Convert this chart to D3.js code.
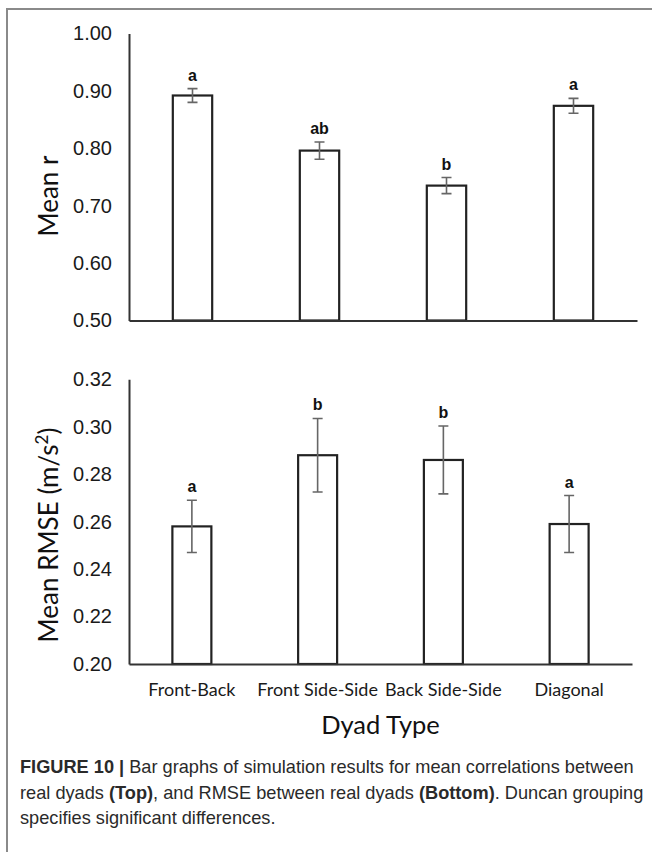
<!DOCTYPE html>
<html>
<head>
<meta charset="utf-8">
<script src="https://cdn.jsdelivr.net/npm/d3@7"></script>
<style>
  html, body { margin: 0; padding: 0; background: #fff; }
  svg { display: block; }
</style>
</head>
<body>
<svg id="chart" width="652" height="852"></svg>
<script>
// ---- Data ----
const categories = ["Front-Back", "Front Side-Side", "Back Side-Side", "Diagonal"];

const meanR = [0.892, 0.796, 0.735, 0.874];
const meanRErr = [0.012, 0.015, 0.014, 0.013];
const meanRLetters = ["a", "ab", "b", "a"];
const meanRTicks = [0.50, 0.60, 0.70, 0.80, 0.90, 1.00];

const meanRMSE = [0.258, 0.288, 0.286, 0.259];
const meanRMSEErr = [0.011, 0.0155, 0.0143, 0.012];
const meanRMSELetters = ["a", "b", "b", "a"];
const rmseTicks = [0.20, 0.22, 0.24, 0.26, 0.28, 0.30, 0.32];

const svg = d3.select("#chart");

// frame
svg.append("path")
  .attr("d", "M7,852V9H652")
  .attr("fill", "none").attr("stroke", "#8a8a8a").attr("stroke-width", 2);

function panel(opts) {
  const {values, errs, letters, ticks, domain, xRange, yRange, showCats} = opts;
  const g = svg.append("g");
  const x = d3.scaleBand().domain(categories).range(xRange)
    .paddingInner(0.69).paddingOuter(0.345);
  const y = d3.scaleLinear().domain(domain).range(yRange);

  // y axis
  const ya = g.append("g").attr("transform", `translate(${xRange[0]},0)`)
    .call(d3.axisLeft(y).tickValues(ticks).tickFormat(d3.format(".2f"))
      .tickSize(0).tickPadding(17));
  ya.select(".domain").attr("stroke", "#333").attr("stroke-width", 2);
  ya.selectAll("text").attr("font-family", "'Liberation Sans', Arial, sans-serif")
    .attr("font-size", 20).attr("fill", "#1a1a1a");

  // bars
  g.selectAll("rect.bar").data(values).enter().append("rect")
    .attr("class", "bar")
    .attr("x", (d, i) => x(categories[i]))
    .attr("width", x.bandwidth())
    .attr("y", d => y(d))
    .attr("height", d => y(domain[0]) - y(d))
    .attr("fill", "#fff").attr("stroke", "#222").attr("stroke-width", 2.2);

  // x axis
  const xa = g.append("g").attr("transform", `translate(0,${y(domain[0])})`)
    .call(d3.axisBottom(x).tickSize(0).tickSizeOuter(0).tickPadding(0));
  xa.select(".domain").attr("stroke", "#333").attr("stroke-width", 2);
  if (showCats) {
    xa.selectAll("text").attr("font-family", "Lato, sans-serif")
      .attr("font-size", 18).attr("fill", "#1a1a1a")
      .attr("y", 32).attr("dy", 0);
  } else {
    xa.selectAll(".tick").remove();
  }

  // error bars
  const cx = i => x(categories[i]) + x.bandwidth() / 2;
  const eb = g.append("g").attr("stroke", "#666").attr("stroke-width", 1.6).attr("fill", "none");
  values.forEach((v, i) => {
    const t = y(v + errs[i]), b = y(v - errs[i]), c = cx(i);
    eb.append("path").attr("d", `M${c},${t}V${b}M${c - 5},${t}H${c + 5}M${c - 5},${b}H${c + 5}`);
  });

  // letters
  g.selectAll("text.letter").data(letters).enter().append("text")
    .attr("class", "letter")
    .attr("x", (d, i) => cx(i))
    .attr("y", (d, i) => y(values[i] + errs[i]) - 8)
    .attr("text-anchor", "middle")
    .attr("font-family", "'Liberation Sans', Arial, sans-serif")
    .attr("font-weight", "bold").attr("font-size", 16).attr("fill", "#111")
    .text(d => d);
  return {x, y};
}

panel({values: meanR, errs: meanRErr, letters: meanRLetters, ticks: meanRTicks,
  domain: [0.5, 1.0], xRange: [129, 637], yRange: [320.5, 33.5], showCats: false});
panel({values: meanRMSE, errs: meanRMSEErr, letters: meanRMSELetters, ticks: rmseTicks,
  domain: [0.2, 0.32], xRange: [129, 632], yRange: [664, 379.3], showCats: true});

// axis titles
svg.append("text")
  .attr("transform", "translate(58,196) rotate(-90)")
  .attr("text-anchor", "middle")
  .attr("font-family", "Lato, sans-serif").attr("font-size", 26).attr("fill", "#111")
  .text("Mean r");

const t2 = svg.append("text")
  .attr("transform", "translate(58,535) rotate(-90)")
  .attr("text-anchor", "middle")
  .attr("font-family", "Lato, sans-serif").attr("font-size", 26).attr("fill", "#111");
t2.append("tspan").text("Mean RMSE (m/s");
t2.append("tspan").attr("font-size", 17).attr("dy", -10).text("2");
t2.append("tspan").attr("dy", 10).text(")");

svg.append("text")
  .attr("x", 380.5).attr("y", 734)
  .attr("text-anchor", "middle")
  .attr("font-family", "Lato, sans-serif").attr("font-size", 25.5).attr("fill", "#111")
  .text("Dyad Type");

// caption
const capLines = [
  [["FIGURE 10 | ", true], ["Bar graphs of simulation results for mean correlations between", false]],
  [["real dyads ", false], ["(Top)", true], [", and RMSE between real dyads ", false], ["(Bottom)", true], [". Duncan grouping", false]],
  [["specifies significant differences.", false]]
];
const capY = [773, 799, 824];
capLines.forEach((line, li) => {
  const t = svg.append("text").attr("x", 20).attr("y", capY[li])
    .attr("font-family", "'Liberation Sans', Arial, sans-serif")
    .attr("font-size", 18.2).attr("fill", "#2a2a2a");
  line.forEach(([s, b]) => {
    t.append("tspan").attr("font-weight", b ? "bold" : "normal").text(s);
  });
});
</script>
</body>
</html>
